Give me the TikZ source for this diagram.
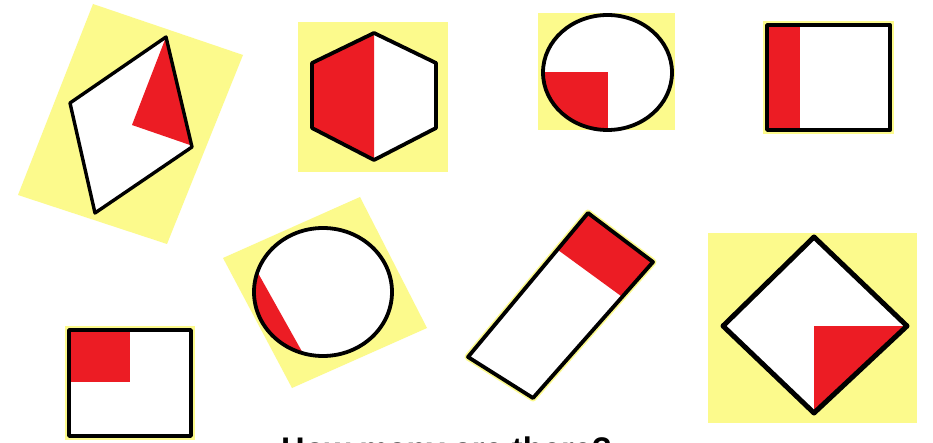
\documentclass[tikz,border=0pt]{standalone}
\usepackage{fontspec}
\setmainfont{Liberation Sans}
\definecolor{padyellow}{RGB}{252,250,140}
\definecolor{partred}{RGB}{236,28,36}
\begin{document}
\begin{tikzpicture}[x=1pt,y=-1pt,
  outl/.style={draw=black,line width=3.8pt,line join=round},
  pad/.style={fill=padyellow},
  part/.style={fill=partred}]
\useasboundingbox (0,0) rectangle (933,443);
\clip (0,0) rectangle (933,443);
\fill[white] (0,0) rectangle (933,443);

% 1: rotated quadrilateral
\fill[pad] (18,195) -- (93,4) -- (243,55) -- (167,244) -- cycle;
\fill[white] (166,37) -- (192,147) -- (95,213) -- (70,103) -- cycle;
\fill[part] (166,37) -- (132,125) -- (190,145) -- cycle;
\draw[outl,line width=3.4pt] (166,37) -- (192,147) -- (95,213) -- (70,103) -- cycle;

% 2: hexagon
\fill[pad] (298,22) rectangle (448,172);
\fill[white] (374,33) -- (436,63) -- (436,128) -- (374,160) -- (312,128) -- (312,63) -- cycle;
\fill[part] (374,33) -- (374,160) -- (312,128) -- (312,63) -- cycle;
\draw[outl] (374,33) -- (436,63) -- (436,128) -- (374,160) -- (312,128) -- (312,63) -- cycle;

% 3: circle with quarter
\fill[pad] (538,13) rectangle (675,130);
\fill[white] (607.5,72.5) ellipse [x radius=64.5, y radius=57.5];
\begin{scope}
  \clip (607.5,72.5) ellipse [x radius=64.5, y radius=57.5];
  \fill[part] (535,72.5) rectangle (607.5,140);
\end{scope}
\draw[outl] (607.5,72.5) ellipse [x radius=64.5, y radius=57.5];

% 4: rectangle with strip
\fill[pad] (763,21) rectangle (894,134);
\fill[white] (767,25) rectangle (890,130);
\fill[part] (767,25) rectangle (800,130);
\draw[outl] (767,25) rectangle (890,130);

% 5: rectangle with corner square
\fill[pad] (65,326) rectangle (195,440);
\fill[white] (69,330) rectangle (191,436);
\fill[part] (69,330) rectangle (130,382);
\draw[outl] (69,330) rectangle (191,436);

% 6: rotated circle with segment
\fill[pad] (223,258) -- (360,197) -- (427,328) -- (292,388) -- cycle;
\fill[white] (323,292) ellipse [x radius=69, y radius=64];
\begin{scope}
  \clip (323,292) ellipse [x radius=69, y radius=64];
  \fill[part] (216,198) -- (258,273) -- (300,348) -- (342,423) -- (200,423) -- (200,198) -- cycle;
\end{scope}
\draw[outl] (323,292) ellipse [x radius=69, y radius=64];

% 7: rotated rectangle with band
\draw[padyellow,line width=7pt,line join=round] (588,213) -- (653,262) -- (533,398) -- (468,357) -- cycle;
\fill[white] (588,213) -- (653,262) -- (533,398) -- (468,357) -- cycle;
\fill[part] (588,213) -- (653,262) -- (621,296) -- (558,250) -- cycle;
\draw[outl] (588,213) -- (653,262) -- (533,398) -- (468,357) -- cycle;

% 8: diamond with triangle
\fill[pad] (708,233) rectangle (917,423);
\fill[white] (814,237) -- (907,326) -- (814,413) -- (723,326) -- cycle;
\fill[part] (814,326) -- (907,326) -- (814,413) -- cycle;
\draw[outl,line width=5pt] (814,237) -- (907,326) -- (814,413) -- (723,326) -- cycle;

% caption (cut off at the bottom edge, as in the reference)
\node[anchor=base west, inner sep=0pt, font=\bfseries\fontsize{32.7}{36}\selectfont] (caption) at (281,460) {How many are there?};
\end{tikzpicture}
\end{document}
